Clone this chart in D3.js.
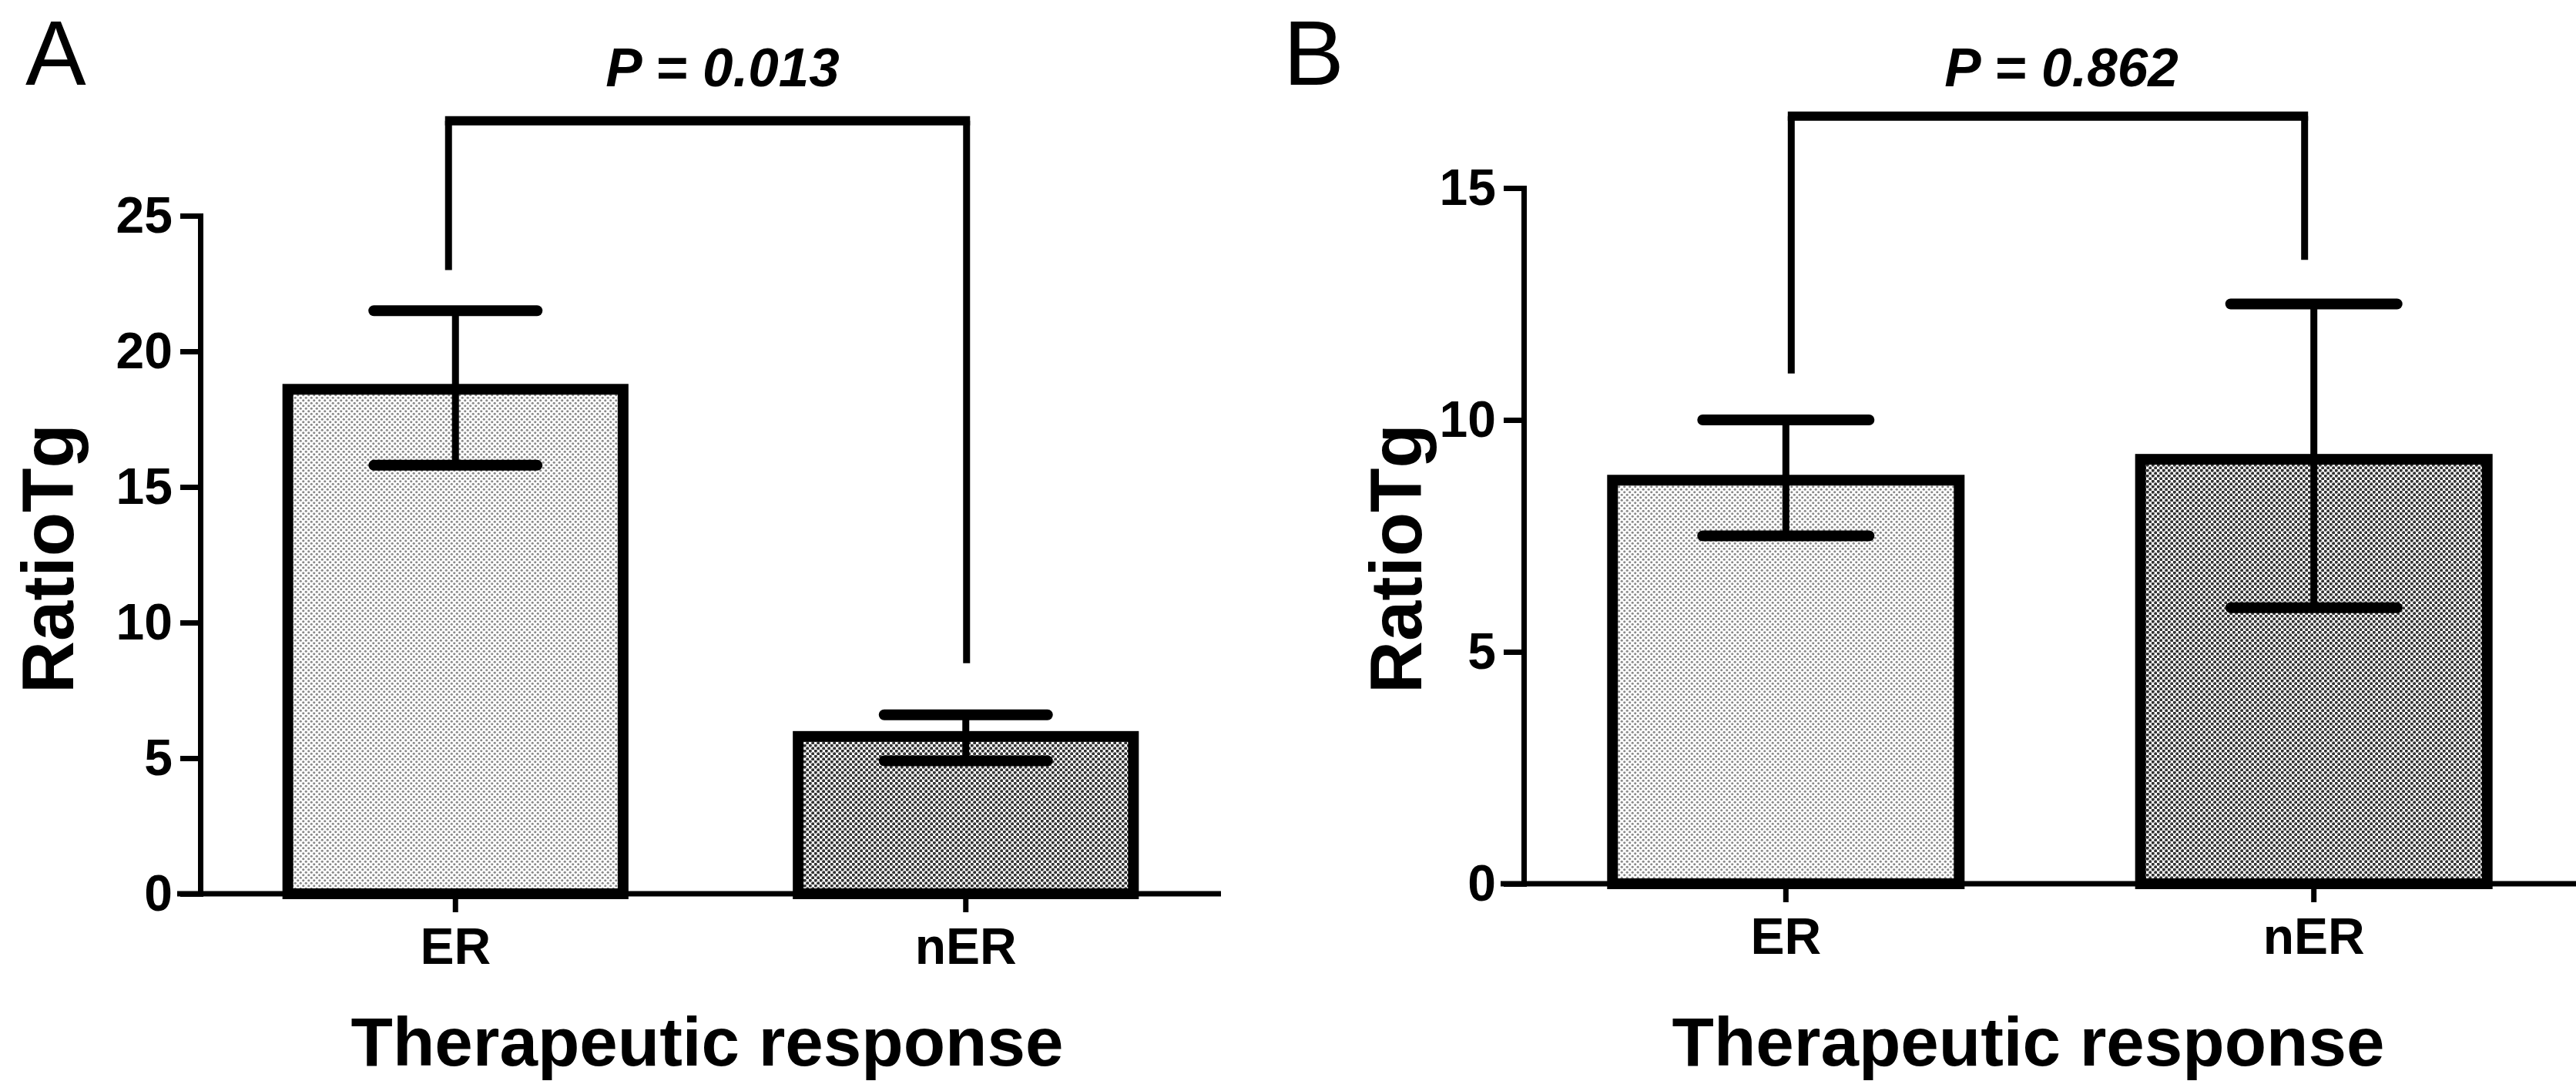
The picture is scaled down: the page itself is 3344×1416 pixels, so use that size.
<!DOCTYPE html>
<html>
<head>
<meta charset="utf-8">
<script src="https://cdn.jsdelivr.net/npm/d3@7"></script>
<style>
  body { margin: 0; background: #fff; }
  svg { display: block; font-family: "Liberation Sans", Arial, sans-serif; }
</style>
</head>
<body>
<svg id="chart" width="3344" height="1416"></svg>
<script>
// Groups on the x axis
var categories = ["ER", "nER"];

// Panel A: mean RatioTg with error bar ends
var meanA = [18.6, 5.8];
var lowA = [15.8, 4.9];
var highA = [21.5, 6.6];
var ticksA = [0, 5, 10, 15, 20, 25];

// Panel B
var meanB = [8.7, 9.15];
var lowB = [7.5, 5.95];
var highB = [10.0, 12.5];
var ticksB = [0, 5, 10, 15];

// Significance brackets: [left leg end, right leg end, top], in data units
var bracketA = [23, 8.5, 28.5];
var bracketB = [11, 13.45, 16.55];
var pLabels = ["P = 0.013", "P = 0.862"];
var panelLetters = ["A", "B"];

var svg = d3.select("#chart");

// Fill patterns that imitate the dotted bars
function addPattern(id, dotColor, r) {
    var p = svg.append("defs").append("pattern")
        .attr("id", id)
        .attr("patternUnits", "userSpaceOnUse")
        .attr("width", 7)
        .attr("height", 7);
    p.append("rect").attr("width", 7).attr("height", 7).attr("fill", "#fff");
    p.append("circle").attr("cx", 1.75).attr("cy", 1.75).attr("r", r).attr("fill", dotColor);
    p.append("circle").attr("cx", 5.25).attr("cy", 5.25).attr("r", r).attr("fill", dotColor);
}
addPattern("dotsLight", "#8a8a8a", 1.6);
addPattern("dotsDark", "#333", 2.1);
var fills = ["url(#dotsLight)", "url(#dotsDark)"];

function drawPanel(opt) {
    var g = svg.append("g");

    var yScale = d3.scaleLinear()
                   .domain([0, opt.ticks[opt.ticks.length - 1]])
                   .range([opt.bottom, opt.top]);

    var xScale = d3.scaleBand()
                   .domain(categories)
                   .range([opt.left, opt.right])
                   .paddingInner(opt.padInner)
                   .paddingOuter(opt.padOuter);

    // Bars
    g.selectAll(".bar")
     .data(categories)
     .enter()
     .append("rect")
       .attr("x", function(d) {return xScale(d) + 7;})
       .attr("width", xScale.bandwidth() - 14)
       .attr("y", function(d, i) {return yScale(opt.mean[i]);})
       .attr("height", function(d, i) {return yScale(0) - yScale(opt.mean[i]);})
       .attr("fill", function(d, i) {return fills[i];})
       .attr("stroke", "#000")
       .attr("stroke-width", 14);

    // Error bars
    var cx = function(d) {return xScale(d) + xScale.bandwidth() / 2;};
    g.selectAll(".whisker")
     .data(categories)
     .enter()
     .append("line")
       .attr("x1", cx).attr("x2", cx)
       .attr("y1", function(d, i) {return yScale(opt.low[i]);})
       .attr("y2", function(d, i) {return yScale(opt.high[i]);})
       .attr("stroke", "#000")
       .attr("stroke-width", 9);

    [opt.low, opt.high].forEach(function(ends) {
        g.selectAll(null)
         .data(categories)
         .enter()
         .append("line")
           .attr("x1", function(d) {return cx(d) - opt.capHalf;})
           .attr("x2", function(d) {return cx(d) + opt.capHalf;})
           .attr("y1", function(d, i) {return yScale(ends[i]);})
           .attr("y2", function(d, i) {return yScale(ends[i]);})
           .attr("stroke", "#000")
           .attr("stroke-width", 14)
           .attr("stroke-linecap", "round");
    });

    // Y axis
    var yAxis = g.append("g")
        .attr("transform", "translate(" + opt.left + ",0)")
        .call(d3.axisLeft(yScale).tickValues(opt.ticks).tickSize(26).tickPadding(10).tickSizeOuter(0));
    yAxis.select(".domain").attr("stroke-width", 7).attr("stroke-linecap", "square");
    yAxis.selectAll(".tick line").attr("stroke-width", 7);
    yAxis.selectAll(".tick text")
         .attr("font-family", "'Liberation Sans', Arial, sans-serif")
         .attr("font-size", 66)
         .attr("font-weight", "bold")
         .attr("fill", "#000");

    // X axis
    var xAxis = g.append("g")
        .attr("transform", "translate(0," + opt.bottom + ")")
        .call(d3.axisBottom(xScale).tickSize(24).tickPadding(20).tickSizeOuter(0));
    xAxis.select(".domain").remove();
    xAxis.insert("line", ":first-child")
         .attr("x1", opt.left - 30)
         .attr("x2", opt.axisEnd)
         .attr("stroke", "#000")
         .attr("stroke-width", 7);
    xAxis.selectAll(".tick line").attr("stroke-width", 7);
    xAxis.selectAll(".tick text")
         .attr("font-family", "'Liberation Sans', Arial, sans-serif")
         .attr("font-size", 66)
         .attr("font-weight", "bold")
         .attr("fill", "#000");

    // Axis titles
    g.append("text")
     .attr("x", opt.titleX)
     .attr("y", 1383)
     .attr("text-anchor", "middle")
     .attr("font-size", 89)
     .attr("font-weight", "bold")
     .text("Therapeutic response");

    g.append("text")
     .attr("transform", "translate(" + opt.yTitleX + ",725) rotate(-90)")
     .attr("text-anchor", "middle")
     .attr("font-size", 94)
     .attr("font-weight", "bold")
     .text("RatioTg");

    // Significance bracket: thin legs, heavier top bar
    var x0 = cx(categories[0]) + opt.legShift[0];
    var x1 = cx(categories[1]) + opt.legShift[1];
    var yTop = yScale(opt.bracket[2]);
    g.append("line")
     .attr("x1", x0).attr("x2", x0)
     .attr("y1", yScale(opt.bracket[0])).attr("y2", yTop)
     .attr("stroke", "#000").attr("stroke-width", 9);
    g.append("line")
     .attr("x1", x1).attr("x2", x1)
     .attr("y1", yScale(opt.bracket[1])).attr("y2", yTop)
     .attr("stroke", "#000").attr("stroke-width", 9);
    g.append("line")
     .attr("x1", x0 - 4.5).attr("x2", x1 + 4.5)
     .attr("y1", yTop).attr("y2", yTop)
     .attr("stroke", "#000").attr("stroke-width", 12);

    g.append("text")
     .attr("x", opt.pX)
     .attr("y", 112)
     .attr("text-anchor", "middle")
     .attr("font-size", 71)
     .attr("font-weight", "bold")
     .attr("font-style", "italic")
     .text(opt.pLabel);

    // Panel letter
    g.append("text")
     .attr("x", opt.letterX)
     .attr("y", 110)
     .attr("font-size", 118)
     .text(opt.letter);
}

drawPanel({
    mean: meanA, low: lowA, high: highA, ticks: ticksA, bracket: bracketA,
    pLabel: pLabels[0], letter: panelLetters[0],
    left: 260, right: 1585, top: 280, bottom: 1160, axisEnd: 1585,
    padInner: 0.322, padOuter: 0.161, capHalf: 106, legShift: [-9, 1],
    titleX: 918, yTitleX: 95, pX: 938, letterX: 33
});

drawPanel({
    mean: meanB, low: lowB, high: highB, ticks: ticksB, bracket: bracketB,
    pLabel: pLabels[1], letter: panelLetters[1],
    left: 1978, right: 3344, top: 244, bottom: 1147, axisEnd: 3344,
    padInner: 0.323, padOuter: 0.158, capHalf: 108, legShift: [7, -12],
    titleX: 2633, yTitleX: 1845, pX: 2676, letterX: 1666
});
</script>
</body>
</html>
